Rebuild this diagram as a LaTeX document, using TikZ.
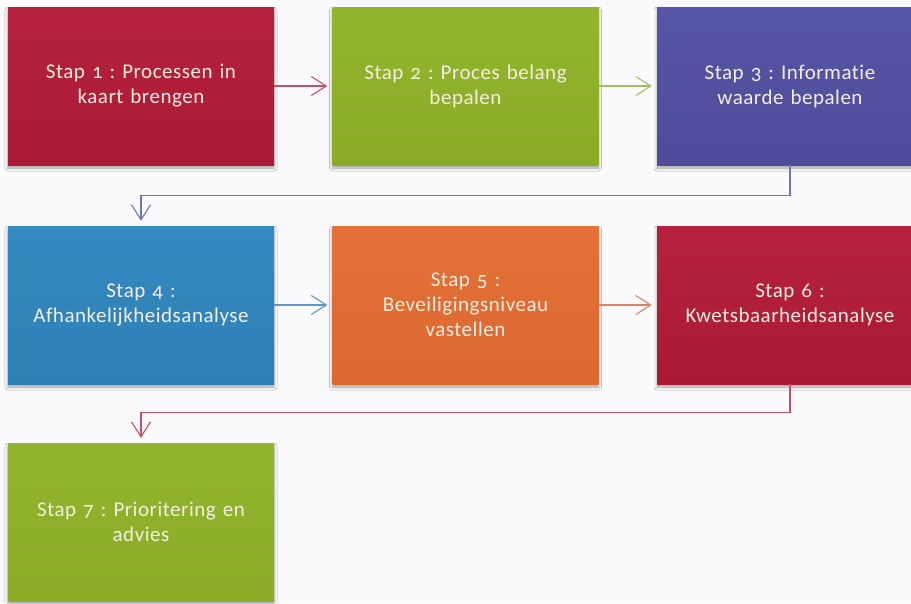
\documentclass[tikz,border=0pt]{standalone}
\usepackage{fontspec}
\setmainfont{Carlito}[Numbers=OldStyle, Ligatures=NoCommon, LetterSpace=2.5]
\usetikzlibrary{arrows.meta,shadows.blur}

% step colours
\definecolor{redTop}{RGB}{182,34,62}
\definecolor{redBot}{RGB}{170,26,52}
\definecolor{greenTop}{RGB}{146,181,46}
\definecolor{greenBot}{RGB}{138,172,38}
\definecolor{purpleTop}{RGB}{86,86,166}
\definecolor{purpleBot}{RGB}{78,76,154}
\definecolor{blueTop}{RGB}{52,138,192}
\definecolor{blueBot}{RGB}{46,128,182}
\definecolor{orangeTop}{RGB}{228,114,56}
\definecolor{orangeBot}{RGB}{220,104,48}
\definecolor{lblText}{RGB}{244,238,226}
\definecolor{paper}{RGB}{250,250,252}
% connector colours
\definecolor{lnRed}{RGB}{196,80,104}
\definecolor{lnGreen}{RGB}{160,192,96}
\definecolor{lnPurple}{RGB}{110,118,184}
\definecolor{lnBlue}{RGB}{92,150,206}
\definecolor{lnOrange}{RGB}{226,128,96}

\tikzset{
  stepbox/.style 2 args={
    minimum width=266pt, minimum height=158pt, inner sep=0pt,
    text width=250pt, align=center, text=lblText,
    font=\fontsize{21pt}{25pt}\selectfont\frenchspacing,
    top color=#1, bottom color=#2,
    blur shadow={shadow xshift=0pt, shadow yshift=-3pt,
                 shadow blur radius=3pt, shadow opacity=35}
  },
  flow/.style={line width=1.1pt, -{Straight Barb[length=15pt,width=19pt,line width=1.1pt]},
               shorten >=5pt}
}

\begin{document}
\begin{tikzpicture}[x=1pt,y=-1pt]
  \useasboundingbox (0,0) rectangle (911,603);
  \fill[paper] (0,0) rectangle (911,603);
  \clip (0,0) rectangle (911,603);

  % row 1
  \node[stepbox={redTop}{redBot}]       (s1) at (141,86)   {Stap 1 : Processen in\\kaart brengen};
  \node[stepbox={greenTop}{greenBot}]   (s2) at (465.5,86) {Stap 2 : Proces belang\\bepalen};
  \node[stepbox={purpleTop}{purpleBot}] (s3) at (790,86)   {Stap 3 : Informatie\\waarde bepalen};
  % row 2
  \node[stepbox={blueTop}{blueBot}]     (s4) at (141,305)  {Stap 4 :\\Afhankelijkheidsanalyse};
  \node[stepbox={orangeTop}{orangeBot}] (s5) at (465.5,305){Stap 5 :\\Beveiligingsniveau\\vastellen};
  \node[stepbox={redTop}{redBot}]       (s6) at (790,305)  {Stap 6 :\\Kwetsbaarheidsanalyse};
  % row 3
  \node[stepbox={greenTop}{greenBot}]   (s7) at (141,522)  {Stap 7 : Prioritering en\\advies};

  % connectors
  \draw[flow, lnRed]    (s1) -- (s2);
  \draw[flow, lnGreen]  (s2) -- (s3);
  \draw[flow, lnPurple] (s3.south) -- ++(0,30) -| (s4.north);
  \draw[flow, lnBlue]   (s4) -- (s5);
  \draw[flow, lnOrange] (s5) -- (s6);
  \draw[flow, lnRed]    (s6.south) -- ++(0,28) -| (s7.north);
\end{tikzpicture}
\end{document}
